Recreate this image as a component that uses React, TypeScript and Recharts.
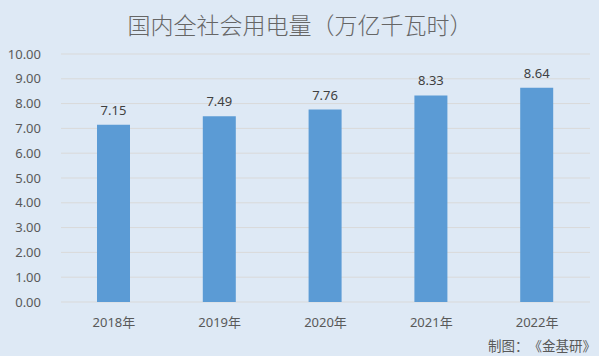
import { Bar, BarChart, CartesianGrid, LabelList, XAxis, YAxis } from "recharts";

const years = ["2018年", "2019年", "2020年", "2021年", "2022年"];
const consumption = [7.15, 7.49, 7.76, 8.33, 8.64];
const yTicks = [0, 1, 2, 3, 4, 5, 6, 7, 8, 9, 10];

const data = years.map((year, i) => ({ year, value: consumption[i] }));

const font = "'Noto Sans', 'Noto Sans CJK SC', sans-serif";

export default function App() {
  return (
    <div
      style={{
        position: "fixed",
        left: 0,
        top: 0,
        width: 599,
        height: 356,
        background: "#dee9f5",
        fontFamily: font,
      }}
    >
      <div
        style={{
          position: "absolute",
          top: 7,
          left: 8,
          width: 584,
          textAlign: "center",
          fontSize: 23,
          color: "#666666",
          fontFamily: "'Noto Sans CJK SC', sans-serif",
          fontWeight: 300,
          textSpacingTrim: "space-all",
        } as React.CSSProperties}
      >
        国内全社会用电量（万亿千瓦时）
      </div>
      <BarChart
        width={599}
        height={356}
        data={data}
        margin={{ top: 54, right: 9, bottom: 24, left: 0 }}
      >
        <CartesianGrid vertical={false} stroke="#d9d9d9" />
        <XAxis
          dataKey="year"
          axisLine={false}
          tickLine={false}
          tick={{ fill: "#595959", fontSize: 13, fontFamily: font }}
          tickMargin={10}
          height={30}
        />
        <YAxis
          domain={[0, 10]}
          ticks={yTicks}
          width={61}
          axisLine={false}
          tickLine={false}
          tickFormatter={(v: number) => v.toFixed(2)}
          tick={{ fill: "#595959", fontSize: 13, fontFamily: font }}
          tickMargin={14}
        />
        <Bar dataKey="value" fill="#5b9bd5" barSize={33} isAnimationActive={false}>
          <LabelList
            dataKey="value"
            position="top"
            offset={10}
            formatter={(v: number) => v.toFixed(2)}
            style={{ fill: "#404040", fontSize: 13, fontFamily: font }}
          />
        </Bar>
      </BarChart>
      <div
        style={{
          position: "absolute",
          right: 3,
          top: 335,
          fontSize: 13.5,
          color: "#595959",
          fontFamily: "'Noto Sans CJK SC', sans-serif",
          textSpacingTrim: "space-all",
        } as React.CSSProperties}
      >
        制图：《金基研》
      </div>
    </div>
  );
}
